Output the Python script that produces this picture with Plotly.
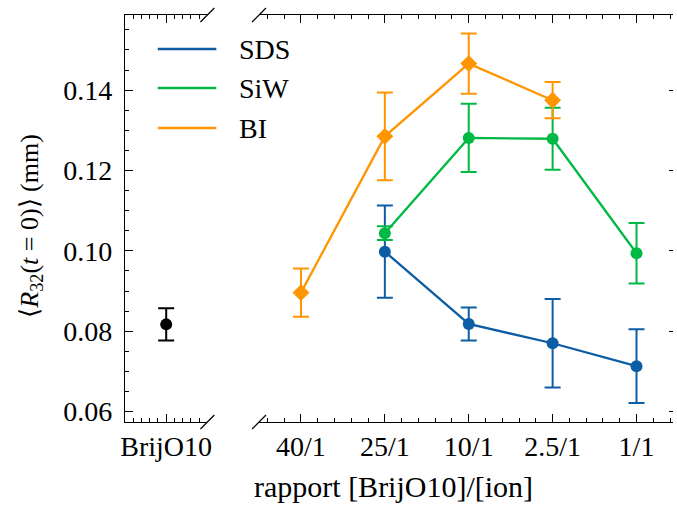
import numpy as np
import plotly.graph_objects as go

# ---- data -------------------------------------------------------------
categories = ["40/1", "25/1", "10/1", "2.5/1", "1/1"]

sds = [None, 0.0998, 0.0818, 0.0770, 0.0713]
sds_err = [None, 0.0115, 0.0041, 0.0110, 0.0092]

siw = [None, 0.1044, 0.1281, 0.1279, 0.0994]
siw_err = [None, 0.0017, 0.0085, 0.0077, 0.0075]

bi = [0.0896, 0.1285, 0.1466, 0.1375, None]
bi_err = [0.0060, 0.0109, 0.0075, 0.0045, None]

ref_label = ["BrijO10"]
ref_val = [0.0817]
ref_err = [0.0040]

series_names = ["SDS", "SiW", "BI"]
series_colors = ["#0C5DA5", "#00B945", "#FF9500"]

# ---- geometry (pixels) ------------------------------------------------
W, H = 677, 509
L, R, T, B = 125, 0, 15, 87
PW, PH = W - L - R, H - T - B
LEFT_END = 208     # right end of the narrow panel
RIGHT_START = 260  # left end of the wide panel


def px_x(x):
    return (x - L) / PW


def px_y(y):
    return (H - B - y) / PH


def arr(v):
    return np.array([np.nan if a is None else a for a in v], dtype=float)


FAMILY = "Liberation Serif, Liberation Sans, serif"
FONT = dict(family=FAMILY, size=28, color="black")
xpos = np.arange(len(categories))

fig = go.Figure()

# reference point (pure surfactant) in the narrow panel
fig.add_trace(go.Scatter(
    x=[0] * len(ref_val), y=ref_val, mode="markers",
    marker=dict(color="black", size=12, symbol="circle"),
    error_y=dict(type="data", array=ref_err, color="black", thickness=2, width=8),
    xaxis="x", yaxis="y", showlegend=False,
))

symbols = ["circle", "circle", "diamond"]
for name, vals, errs, col, sym in zip(series_names, [sds, siw, bi],
                                      [sds_err, siw_err, bi_err],
                                      series_colors, symbols):
    fig.add_trace(go.Scatter(
        x=xpos, y=arr(vals), mode="lines+markers", name=name,
        line=dict(color=col, width=2.3),
        marker=dict(color=col, size=13 if sym == "diamond" else 12, symbol=sym),
        error_y=dict(type="data", array=np.nan_to_num(arr(errs)), color=col,
                     thickness=2, width=8),
        xaxis="x2", yaxis="y2", showlegend=False,
    ))

yrange = [0.0574, 0.1587]
ymajor = dict(tickvals=[0.06, 0.08, 0.10, 0.12, 0.14])
yminor = dict(tickvals=list(np.round(np.arange(0.06, 0.159, 0.005), 4)),
              ticks="inside", ticklen=4, tickcolor="black", tickwidth=1)

common_x = dict(showline=True, linecolor="black", linewidth=1.2, mirror="allticks",
                ticks="inside", ticklen=8, tickwidth=1, tickcolor="black",
                showgrid=False, zeroline=False, tickfont=FONT, tickmode="array",
                ticklabelstandoff=-1)

fig.update_layout(
    width=W, height=H, autosize=False,
    margin=dict(l=L, r=R, t=T, b=B, pad=0),
    paper_bgcolor="white", plot_bgcolor="white",
    font=FONT,
    xaxis=dict(common_x, domain=[0, px_x(LEFT_END)], range=[-1, 1],
               tickvals=[0], ticktext=ref_label, anchor="y",
               minor=dict(tickvals=[-0.8, -0.6, -0.4, -0.2, 0.2, 0.4, 0.6, 0.8],
                          ticks="inside", ticklen=4, tickcolor="black", tickwidth=1)),
    xaxis2=dict(common_x, domain=[px_x(RIGHT_START), 1], range=[-0.5, 4.435],
                tickvals=list(xpos), ticktext=categories, anchor="y2",
                minor=dict(tickvals=list(np.round(np.arange(-0.4, 4.45, 0.2), 2)),
                           ticks="inside", ticklen=4, tickcolor="black", tickwidth=1)),
    yaxis=dict(domain=[0, 1], range=yrange, anchor="x", side="left",
               showline=True, linecolor="black", linewidth=1.2,
               ticks="inside", ticklen=8, tickwidth=1, tickcolor="black",
               tickmode="array", tickformat=".2f", tickfont=FONT,
               ticklabelstandoff=6, showgrid=False, zeroline=False,
               minor=yminor, **ymajor),
    yaxis2=dict(domain=[0, 1], range=yrange, anchor="x2", side="right",
                showline=False, ticks="inside", ticklen=4, tickwidth=1,
                tickcolor="black", tickmode="array", showticklabels=False,
                showgrid=False, zeroline=False, **ymajor),
)

shapes = []
# diagonal break marks at the ends of the cut axes
d = 7
for cx in (LEFT_END, RIGHT_START):
    for cy in (T, H - B):
        shapes.append(dict(type="line", xref="paper", yref="paper",
                           x0=px_x(cx - d), y0=px_y(cy + d),
                           x1=px_x(cx + d), y1=px_y(cy - d),
                           line=dict(color="black", width=1.2)))

annotations = []
# legend
leg_rows = [49, 88, 128]
for name, col, yy in zip(series_names, series_colors, leg_rows):
    shapes.append(dict(type="line", xref="paper", yref="paper",
                       x0=px_x(158), x1=px_x(217), y0=px_y(yy), y1=px_y(yy),
                       line=dict(color=col, width=2.3)))
    annotations.append(dict(text=name, xref="paper", yref="paper",
                            x=px_x(238), y=px_y(yy), xanchor="left",
                            yanchor="middle", showarrow=False, font=FONT))

# axis titles
annotations.append(dict(text="⟨<i>R</i><sub>32</sub>(<i>t</i> = 0)⟩ (mm)",
                        xref="paper", yref="paper", x=px_x(30), y=px_y(226),
                        xanchor="center", yanchor="middle", textangle=-90,
                        showarrow=False, font=dict(FONT, size=26)))
annotations.append(dict(text="rapport [BrijO10]/[ion]",
                        xref="paper", yref="paper", x=px_x(395), y=px_y(486),
                        xanchor="center", yanchor="middle", showarrow=False,
                        font=dict(FONT, size=30)))

fig.update_layout(shapes=shapes, annotations=annotations)

fig.write_html("out.html")
